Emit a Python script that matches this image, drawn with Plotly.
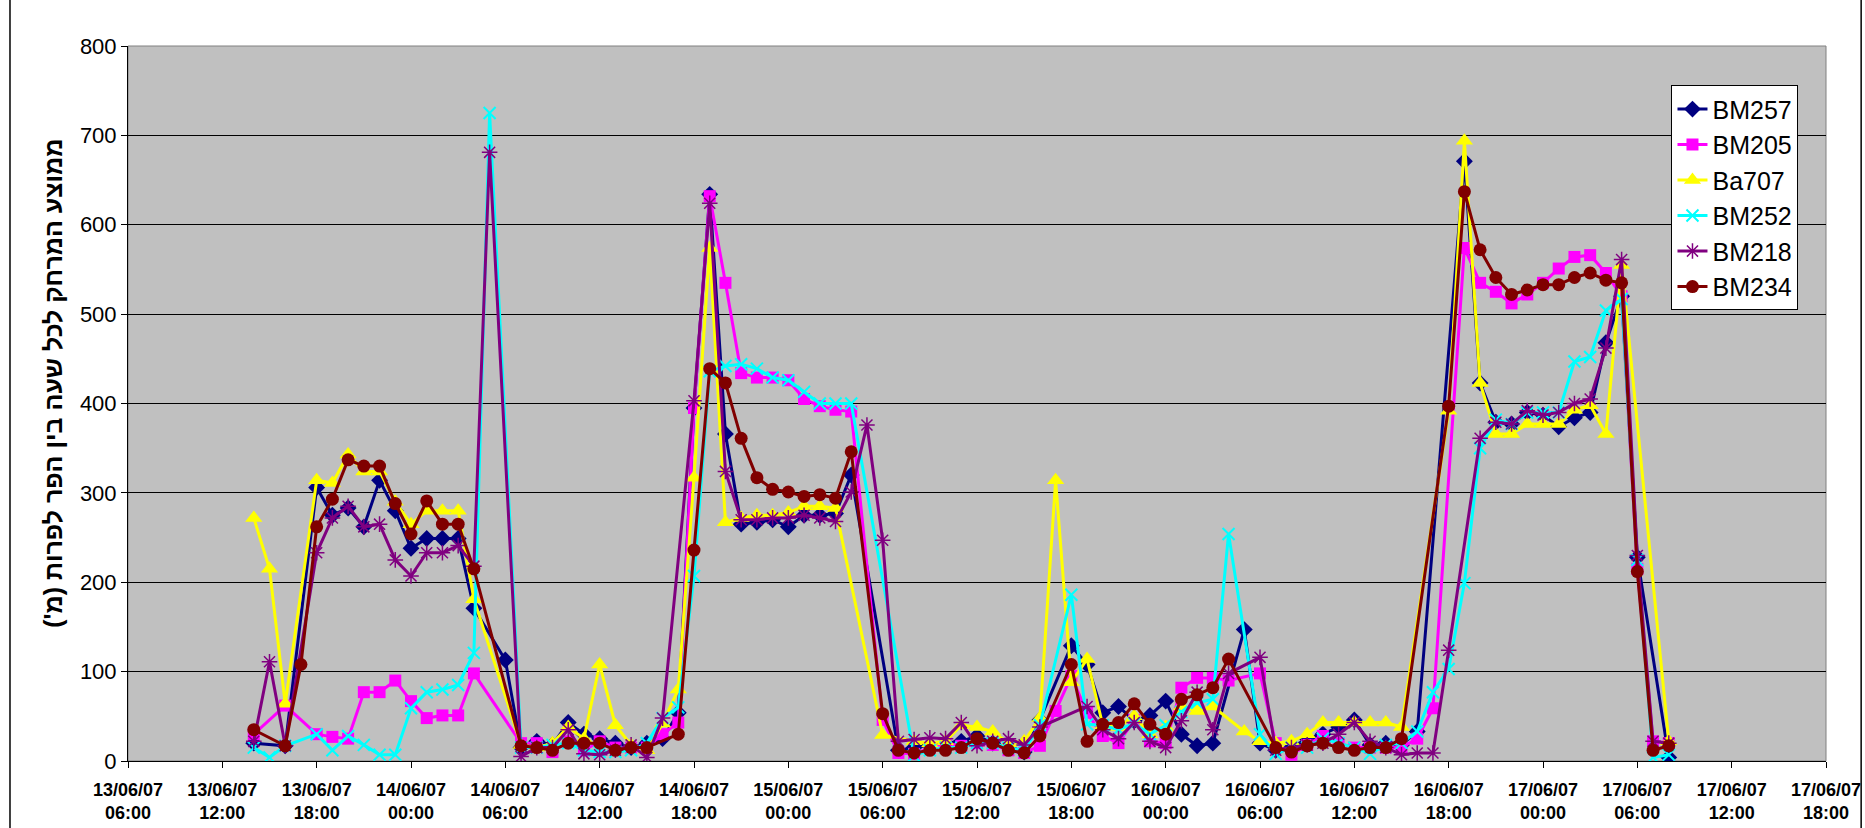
import pandas as pd
import plotly.graph_objects as go

# Hourly readings starting 13/06/07 14:00 (None = no reading for that hour)
times = pd.date_range("2007-06-13 14:00", periods=91, freq="h")

N = None
bm257 = [20, N, 17, N, 306, 275, 283, 262, 314, 280, 238, 249, 249, 249, 171, N, 113, 15, 22, 18,
         43, 30, 25, 20, 15, 20, 25, 54, 395, 634, 366, 265, 267, 270, 262, 275, 275, 277, 320, N,
         N, 12, 15, 18, 20, 22, 28, 20, 15, 10, 46, N, 129, 108, 54, 61, 45, 51, 67, 30,
         17, 20, N, 147, 20, 12, 15, 25, 30, 38, 46, 18, 20, 18, 33, N, N, 671, 423, 379,
         377, 390, 387, 374, 384, 390, 468, 520, 228, N, 4]
bm205 = [30, N, 62, N, 30, 27, 25, 77, 77, 90, 67, 48, 51, 51, 98, N, N, 20, 20, 10,
         22, 12, 22, 15, 15, 15, 30, 43, 395, 632, 535, 434, 429, 429, 426, 405, 397, 393, 391, N,
         46, 9, 8, 15, 20, 17, 20, 18, 12, 9, 17, 56, 95, 54, 28, 20, 46, 22, 20, 82,
         93, 93, 90, N, 98, 20, 7, 18, 28, 20, 15, 15, 15, 15, 25, 59, N, 574, 535, 525,
         512, 522, 535, 551, 564, 566, 546, 520, 215, 22, 20]
ba707 = [272, 215, 64, N, 314, 311, 343, 324, 324, 290, 265, 280, 280, 280, 181, N, N, 18, 15, 20,
         38, 25, 108, 40, 18, 12, 42, 80, 317, 574, 267, 272, 275, 275, 278, 285, 285, 283, N, N,
         29, N, 22, 20, 22, 40, 38, 33, 20, 22, 48, 314, 88, 114, 40, 38, 50, 30, 38, 61,
         56, 61, N, 33, 22, 20, 22, 30, 43, 43, 43, 43, 43, 38, N, N, 392, 694, 423, 366,
         366, 377, 377, 377, 393, 398, 366, 555, N, N, 22]
bm252 = [15, 4, 17, N, 30, 12, 28, 18, 7, 7, 59, 77, 80, 85, 121, 725, N, 15, 15, 18,
         20, 12, 10, 10, 12, 20, 48, 60, 207, 436, 442, 444, 439, 429, 426, 413, 400, 400, 400, N,
         N, N, 6, 12, 15, 15, 20, 20, 15, 12, 40, N, 186, 41, 40, 35, 42, 30, 40, 55,
         65, 69, 254, N, 30, 8, 15, 15, 25, 20, 15, 8, 18, 20, 33, 77, 103, 199, 350, 382,
         377, 390, 390, 390, 447, 452, 504, 517, 225, 4, 7]
bm218 = [22, 111, 17, N, 233, 272, 285, 262, 265, 225, 207, 233, 233, 241, 218, 681, N, 5, 15, 15,
         35, 8, 7, 12, 18, 4, 48, N, 403, 624, 324, 270, 270, 272, 272, 275, 272, 268, 301, 376,
         247, 22, 24, 26, 25, 43, 17, 22, 25, 18, 38, N, N, 61, 35, 25, 43, 22, 15, 45,
         77, 35, 98, N, 116, 12, 15, 18, 20, 30, 43, 22, 15, 7, 9, 9, 124, N, 361, 379,
         377, 392, 387, 390, 400, 405, 462, 561, 230, 22, 20]
bm234 = [35, N, 17, 108, 262, 293, 337, 330, 330, 288, 254, 291, 265, 265, 215, N, N, 17, 15, 12,
         20, 20, 20, 12, 15, 15, N, 30, 236, 439, 423, 361, 317, 304, 301, 296, 298, 294, 346, N,
         53, 12, 9, 12, 12, 15, 25, 20, 12, 9, 28, N, 108, 22, 41, 43, 64, 41, 30, 69,
         74, 82, 114, N, N, 15, 10, 17, 20, 15, 12, 15, 15, 25, N, N, 397, 637, 572, 541,
         522, 527, 533, 533, 541, 546, 538, 535, 212, 12, 17]

series = [
    ("BM257", bm257, "#000080", "diamond", 13, 0),
    ("BM205", bm205, "#FF00FF", "square", 12, 0),
    ("Ba707", ba707, "#FFFF00", "triangle-up", 15, 0),
    ("BM252", bm252, "#00FFFF", "x-thin-open", 12, 2),
    ("BM218", bm218, "#800080", "asterisk-open", 13, 1.5),
    ("BM234", bm234, "#800000", "circle", 13, 0),
]

fig = go.Figure()
for name, vals, color, symbol, size, mlw in series:
    marker = dict(symbol=symbol, size=size, color=color)
    if mlw:
        marker["line"] = dict(color=color, width=mlw)
    fig.add_trace(go.Scatter(
        x=times, y=vals, name=name, mode="lines+markers",
        connectgaps=True,
        line=dict(color=color, width=3),
        marker=marker,
    ))

ytitle = "ממוצע המרחק לכל שעה בין הפר לפרות (מ')" + "\u200f"

fig.update_layout(
    width=1865, height=828,
    margin=dict(l=128, r=39, t=46, b=67),
    paper_bgcolor="white",
    plot_bgcolor="#C0C0C0",
    font=dict(family="Arial, Liberation Sans, sans-serif", color="black"),
    showlegend=True,
    legend=dict(
        x=0.909, y=0.945, xanchor="left", yanchor="top",
        bgcolor="white", bordercolor="black", borderwidth=1,
        font=dict(size=25, color="black"),
        tracegroupgap=0,
    ),
    annotations=[
        dict(text=ytitle, xref="paper", yref="paper", x=-0.0442, y=0.529,
             xanchor="center", yanchor="middle", textangle=-90, showarrow=False,
             font=dict(size=25, weight="bold", color="black")),
    ],
    shapes=[
        dict(type="rect", xref="paper", yref="paper", x0=0, x1=1, y0=0, y1=1,
             line=dict(color="#808080", width=1), layer="below"),
        dict(type="line", xref="paper", yref="paper", x0=-0.0695, x1=-0.0695, y0=-0.2, y1=1.2,
             line=dict(color="black", width=1.5)),
        dict(type="line", xref="paper", yref="paper", x0=1.0207, x1=1.0207, y0=-0.2, y1=1.2,
             line=dict(color="black", width=1.5)),
    ],
)

fig.update_xaxes(
    type="date",
    range=["2007-06-13 06:00", "2007-06-17 18:00"],
    dtick=6 * 3600 * 1000,
    tick0="2007-06-13 06:00",
    tickformat="%d/%m/%y<br>%H:%M",
    tickfont=dict(size=18, weight="bold", color="black"),
    ticklabelstandoff=6,
    automargin=False,
    showgrid=False,
    showline=True, linecolor="black", linewidth=1,
    ticks="outside", ticklen=6, tickcolor="black",
    zeroline=False,
)

fig.update_yaxes(
    range=[0, 800],
    dtick=100,
    tickfont=dict(size=22, color="black"),
    automargin=False,
    showgrid=True, gridcolor="black", gridwidth=1,
    showline=True, linecolor="black", linewidth=1,
    ticks="outside", ticklen=6, tickcolor="black",
    zeroline=False,
)

fig.write_html("out.html")
